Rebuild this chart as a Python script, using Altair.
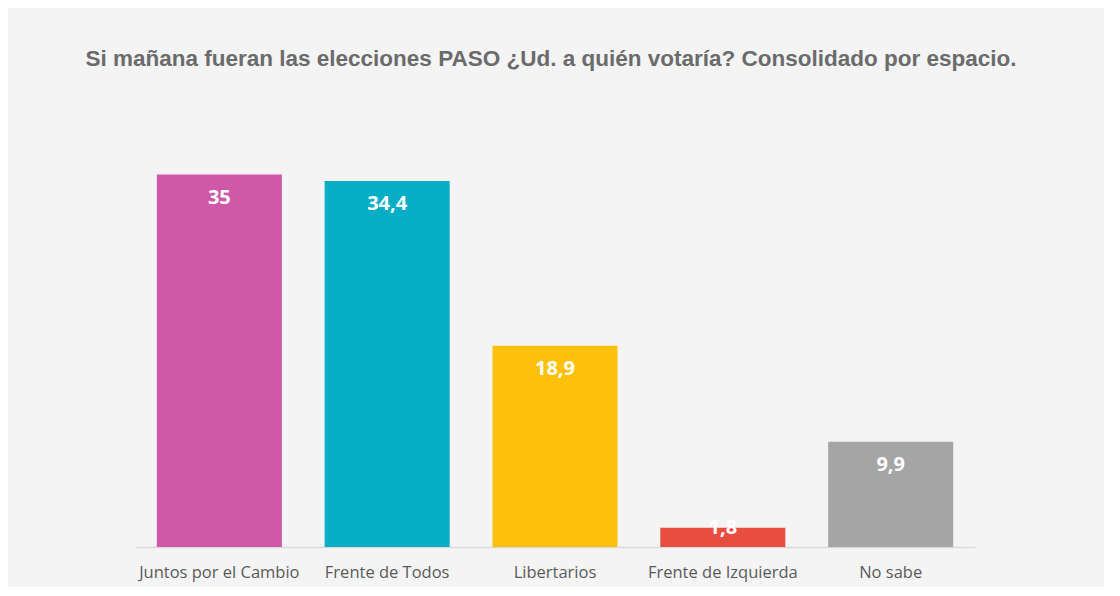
import altair as alt
import pandas as pd

categories = ["Juntos por el Cambio", "Frente de Todos", "Libertarios", "Frente de Izquierda", "No sabe"]
values = [35, 34.4, 18.9, 1.8, 9.9]
labels = ["35", "34,4", "18,9", "1,8", "9,9"]
colors = ["#cf58a8", "#05aec4", "#fdc10a", "#e84e3f", "#a5a5a5"]

df = pd.DataFrame({"cat": categories, "val": values, "lab": labels})

x = alt.X("cat:N", sort=categories, title=None,
          scale=alt.Scale(paddingInner=0.255, paddingOuter=0.13),
          axis=alt.Axis(labelAngle=0, labelFont="Open Sans", labelFontSize=16.5,
                        labelColor="#5a5a5a", ticks=False, labelPadding=17,
                        domainColor="#d9d9d9", domainWidth=1.5, labelLimit=300))
y = alt.Y("val:Q", scale=alt.Scale(domain=[0, 42]), axis=None, title=None)

base = alt.Chart(df).encode(x=x, y=y)

bars = base.mark_bar().encode(
    color=alt.Color("cat:N", scale=alt.Scale(domain=categories, range=colors), legend=None)
)

txt_big = base.transform_filter("datum.val >= 5").mark_text(
    font="Open Sans", fontSize=20, fontWeight="bold", color="white", dy=23, baseline="middle"
).encode(text="lab:N")

txt_small = base.transform_filter("datum.val < 5").mark_text(
    font="Open Sans", fontSize=20, fontWeight="bold", color="white", dy=0, baseline="middle"
).encode(text="lab:N")

chart = alt.layer(bars, txt_big, txt_small).properties(
    width=840, height=447,
    autosize=alt.AutoSizeParams(type="none"),
    padding={"left": 127, "top": 92, "right": 129, "bottom": 40},
    background="#f4f4f4",
    title=alt.TitleParams(
        "Si mañana fueran las elecciones PASO ¿Ud. a quién votaría? Consolidado por espacio.",
        font="Liberation Sans", fontSize=22.5, fontWeight="bold", color="#6b6b6b",
        anchor="middle", offset=30, dx=-4
    ),
).configure_view(stroke=None)

chart.save("out.html", embed_options={"renderer": "svg", "actions": False})
